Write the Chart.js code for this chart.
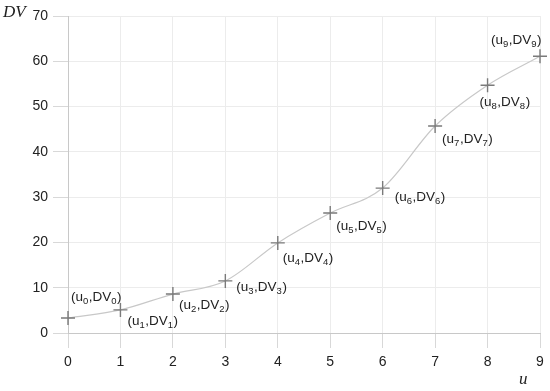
<!DOCTYPE html>
<html>
<head>
<meta charset="utf-8">
<script src="https://cdn.jsdelivr.net/npm/chart.js@4"></script>
<style>
  html, body { margin: 0; padding: 0; background: #fff; }
  #wrap { width: 550px; height: 391px; position: relative; }
</style>
</head>
<body>
<div id="wrap"><canvas id="chart"></canvas></div>
<script>
  // data
  const uValues = [0, 1, 2, 3, 4, 5, 6, 7, 8, 9];
  const dvValues = [3.3, 5.1, 8.6, 11.5, 19.9, 26.5, 32.0, 45.7, 54.7, 61.1];
  const pointIndex = ['0', '1', '2', '3', '4', '5', '6', '7', '8', '9'];
  const xTicks = [0, 1, 2, 3, 4, 5, 6, 7, 8, 9];
  const yTicks = [0, 10, 20, 30, 40, 50, 60, 70];

  // where each point label sits, relative to its point (left edge, vertical centre)
  const labelOffsets = [
    [3, -21], [7, 11], [6, 11], [11, 6], [5, 15],
    [6, 13], [12, 9], [7, 13], [-8, 17], [-49, -16]
  ];

  const SANS = '"Liberation Sans", Arial, sans-serif';
  const SERIF = '"Liberation Serif", "Times New Roman", serif';

  // draws "(u_i,DV_i)" next to each point, with real subscripts
  const pointLabels = {
    id: 'pointLabels',
    afterDatasetsDraw(chart) {
      const ctx = chart.ctx;
      const xs = chart.scales.x, ys = chart.scales.y;
      ctx.save();
      ctx.fillStyle = '#222';
      ctx.textBaseline = 'middle';
      ctx.textAlign = 'left';
      uValues.forEach((u, i) => {
        let x = xs.getPixelForValue(u) + labelOffsets[i][0];
        const y = ys.getPixelForValue(dvValues[i]) + labelOffsets[i][1];
        const parts = [['(u', false], [pointIndex[i], true], [',DV', false], [pointIndex[i], true], [')', false]];
        parts.forEach(([txt, sub]) => {
          ctx.font = sub ? '9.5px ' + SANS : '13.5px ' + SANS;
          ctx.fillText(txt, x, sub ? y + 4 : y);
          x += ctx.measureText(txt).width + (sub ? 0.5 : 0);
        });
      });
      ctx.restore();
    }
  };

  const axisTitles = {
    id: 'axisTitles',
    afterDraw(chart) {
      const ctx = chart.ctx;
      ctx.save();
      ctx.fillStyle = '#222';
      ctx.font = 'italic 17px ' + SERIF;
      ctx.textBaseline = 'middle';
      ctx.textAlign = 'left';
      ctx.fillText('DV', 3, 13);
      ctx.fillText('u', 519, 380);
      ctx.restore();
    }
  };

  new Chart(document.getElementById('chart'), {
    type: 'line',
    data: {
      datasets: [{
        data: uValues.map((u, i) => ({ x: u, y: dvValues[i] })),
        borderColor: '#c8c8c8',
        borderWidth: 1.2,
        cubicInterpolationMode: 'monotone',
        pointStyle: 'cross',
        pointRadius: 7,
        pointBorderColor: '#7a7a7a',
        pointBorderWidth: 1.4,
        pointHoverRadius: 7,
        clip: false,
        fill: false
      }]
    },
    options: {
      responsive: true,
      maintainAspectRatio: false,
      animation: false,
      events: [],
      layout: { padding: { top: 16, right: 10, left: 0, bottom: 0 } },
      plugins: { legend: { display: false }, tooltip: { enabled: false } },
      scales: {
        x: {
          type: 'linear',
          min: 0,
          max: 9,
          afterBuildTicks: s => { s.ticks = xTicks.map(v => ({ value: v })); },
          afterFit: s => { s.height = 58; },
          grid: { color: '#ececec', tickColor: '#d8d8d8', tickLength: 15, lineWidth: 1 },
          border: { color: '#c8c8c8' },
          ticks: { color: '#222', font: { family: SANS, size: 14 }, padding: 6 }
        },
        y: {
          type: 'linear',
          min: 0,
          max: 70,
          afterBuildTicks: s => { s.ticks = yTicks.map(v => ({ value: v })); },
          afterFit: s => { s.width = 68; },
          grid: { color: '#ececec', tickColor: '#d8d8d8', tickLength: 15, lineWidth: 1 },
          border: { color: '#c8c8c8' },
          ticks: { color: '#222', font: { family: SANS, size: 14 }, padding: 5 }
        }
      }
    },
    plugins: [pointLabels, axisTitles]
  });
</script>
</body>
</html>
